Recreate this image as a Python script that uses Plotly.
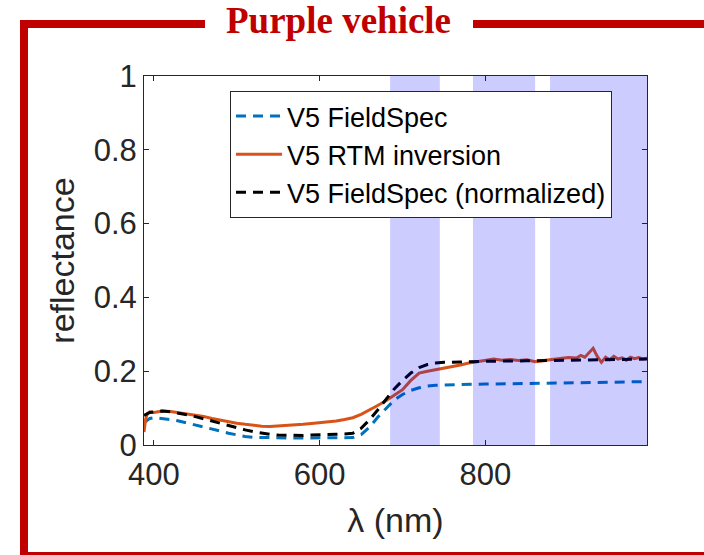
import plotly.graph_objects as go

# ---------------- data ----------------
wl_rtm = [388, 390, 392, 395, 400, 410, 420, 430, 440, 450, 460, 470, 480, 490, 500,
          510, 520, 530, 540, 550, 560, 570, 580, 590, 600, 610, 620, 630, 640, 650,
          660, 670, 680, 690, 700, 710, 720, 730, 740, 750, 760, 770, 780, 790, 800,
          810, 820, 830, 840, 850, 860, 870, 880, 890, 900, 910, 915, 920, 925, 930,
          935, 940, 945, 950, 955, 960, 965, 970, 975, 980, 985, 990, 995]
refl_rtm = [0.035, 0.070, 0.085, 0.090, 0.088, 0.092, 0.091, 0.088, 0.085, 0.081, 0.077,
            0.072, 0.067, 0.063, 0.059, 0.056, 0.053, 0.051, 0.050, 0.051, 0.053, 0.055,
            0.056, 0.058, 0.060, 0.062, 0.065, 0.069, 0.074, 0.083, 0.094, 0.107, 0.120,
            0.134, 0.150, 0.175, 0.195, 0.200, 0.204, 0.207, 0.212, 0.217, 0.222, 0.226,
            0.229, 0.233, 0.230, 0.232, 0.229, 0.231, 0.226, 0.229, 0.231, 0.234, 0.237,
            0.236, 0.243, 0.238, 0.250, 0.262, 0.240, 0.224, 0.238, 0.231, 0.240, 0.233,
            0.236, 0.230, 0.238, 0.234, 0.237, 0.233, 0.235]

wl_fs = [388, 395, 400, 410, 420, 430, 440, 450, 460, 470, 480, 490, 500, 510, 520, 530,
         540, 550, 560, 570, 580, 590, 600, 610, 620, 630, 640, 650, 660, 670, 680, 690,
         700, 710, 720, 730, 740, 750, 770, 800, 850, 900, 950, 995]
refl_fs = [0.060, 0.072, 0.074, 0.072, 0.069, 0.065, 0.060, 0.055, 0.050, 0.044, 0.038,
           0.032, 0.027, 0.023, 0.021, 0.020, 0.019, 0.019, 0.019, 0.019, 0.019, 0.019,
           0.019, 0.019, 0.019, 0.019, 0.020, 0.028, 0.048, 0.075, 0.100, 0.122, 0.137,
           0.148, 0.155, 0.160, 0.162, 0.163, 0.164, 0.165, 0.166, 0.168, 0.170, 0.172]
refl_fs_norm = [0.080, 0.088, 0.090, 0.092, 0.090, 0.087, 0.082, 0.077, 0.071, 0.064,
                0.057, 0.051, 0.046, 0.041, 0.036, 0.032, 0.029, 0.027, 0.026, 0.026,
                0.026, 0.027, 0.027, 0.028, 0.029, 0.030, 0.032, 0.045, 0.068, 0.095,
                0.125, 0.152, 0.175, 0.195, 0.210, 0.218, 0.222, 0.224, 0.225, 0.227,
                0.228, 0.230, 0.231, 0.233]

band_starts = [685, 785, 878]
band_ends = [745, 860, 995]

x_ticks = [400, 600, 800]
y_ticks = [0, 0.2, 0.4, 0.6, 0.8, 1]
y_tick_text = ["0", "0.2", "0.4", "0.6", "0.8", "1"]

# ---------------- layout geometry (pixels) ----------------
W, H = 704, 555
L, R, T, B = 144, 57, 76, 110
PW, PH = W - L - R, H - T - B


def px(x):
    return (x - L) / PW


def py(y):
    return (H - B - y) / PH


AX = "#262626"
RED = "#c00000"

fig = go.Figure()
fig.add_trace(go.Scatter(x=wl_fs, y=refl_fs, mode="lines", name="V5 FieldSpec",
                         line=dict(color="#0072BD", width=3, dash="10px,7px")))
fig.add_trace(go.Scatter(x=wl_rtm, y=refl_rtm, mode="lines", name="V5 RTM inversion",
                         line=dict(color="#D95319", width=3)))
fig.add_trace(go.Scatter(x=wl_fs, y=refl_fs_norm, mode="lines",
                         name="V5 FieldSpec (normalized)",
                         line=dict(color="black", width=3, dash="10px,7px")))

shapes = []
for s, e in zip(band_starts, band_ends):
    shapes.append(dict(type="rect", xref="x", yref="y", x0=s, x1=e, y0=0, y1=1,
                       fillcolor="rgb(0,0,255)", opacity=0.2, line=dict(width=0),
                       layer="above"))

# red frame
shapes.append(dict(type="path", xref="paper", yref="paper",
                   path=f"M {px(24)},{py(565)} L {px(24)},{py(24)} L {px(205)},{py(24)}",
                   line=dict(color=RED, width=8)))
shapes.append(dict(type="line", xref="paper", yref="paper",
                   x0=px(473), x1=px(715), y0=py(24), y1=py(24),
                   line=dict(color=RED, width=8)))
shapes.append(dict(type="line", xref="paper", yref="paper",
                   x0=px(20), x1=px(715), y0=py(556), y1=py(556),
                   line=dict(color=RED, width=8)))

fig.update_layout(
    width=W, height=H,
    margin=dict(l=L, r=R, t=T, b=B, pad=0),
    paper_bgcolor="white", plot_bgcolor="white",
    shapes=shapes,
    showlegend=True,
    legend=dict(x=px(230), y=py(91), xanchor="left", yanchor="top",
                bgcolor="white", bordercolor=AX, borderwidth=1,
                font=dict(family="Liberation Sans, Arial", size=27, color="black"),
                itemwidth=46, tracegroupgap=0),
    annotations=[dict(text="<b>Purple vehicle</b>", xref="paper", yref="paper",
                      x=px(338), y=py(20), xanchor="center", yanchor="middle",
                      showarrow=False,
                      font=dict(family="Liberation Serif, Times New Roman", size=37,
                                color=RED))],
    font=dict(family="Liberation Sans, Arial", color=AX),
)

fig.update_xaxes(range=[388, 995], tickvals=x_ticks, ticks="inside", ticklen=5,
                 tickcolor=AX, showline=True, linecolor=AX, linewidth=1,
                 mirror="allticks", showgrid=False, zeroline=False,
                 ticklabelstandoff=2,
                 tickfont=dict(size=31, color=AX),
                 title=dict(text="λ (nm)", font=dict(size=34, color=AX), standoff=16))
fig.update_yaxes(range=[0, 1], tickvals=y_ticks, ticktext=y_tick_text, ticks="inside",
                 ticklen=5, tickcolor=AX, showline=True, linecolor=AX, linewidth=1,
                 mirror="allticks", showgrid=False, zeroline=False,
                 tickfont=dict(size=31, color=AX),
                 title=dict(text="reflectance", font=dict(size=34, color=AX), standoff=8))

fig.write_html("out.html")
